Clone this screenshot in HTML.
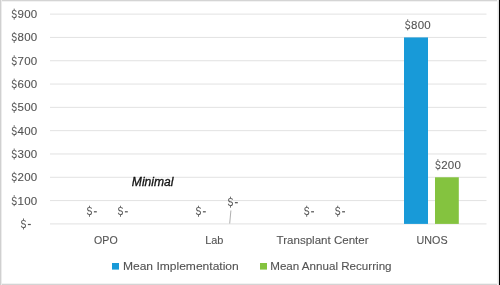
<!DOCTYPE html>
<html><head><meta charset="utf-8">
<style>
html,body{margin:0;padding:0;background:#fff;}
body{width:500px;height:285px;overflow:hidden;}
svg{display:block;will-change:transform;}
text{font-family:"Liberation Sans", sans-serif;fill:#535353;stroke:#535353;stroke-width:0.1px;}
</style></head><body>
<svg width="500" height="285" viewBox="0 0 500 285">
<rect x="0" y="0" width="500" height="285" fill="#fff"/>
<rect x="0" y="0" width="500" height="1" fill="#d4d4d4"/>
<rect x="0" y="1" width="500" height="1" fill="#f2f2f2"/>
<rect x="0" y="284" width="500" height="1" fill="#d4d4d4"/>
<rect x="0" y="283" width="500" height="1" fill="#f2f2f2"/>
<rect x="0" y="0" width="1" height="285" fill="#d0d0d0"/>
<rect x="1" y="0" width="1" height="285" fill="#ececec"/>
<rect x="497" y="0" width="1" height="285" fill="#f3f3f3"/>
<rect x="498" y="0" width="1" height="285" fill="#e2e2e2"/>
<rect x="499" y="0" width="1" height="285" fill="#000"/>
<rect x="50.0" y="223.40" width="436.5" height="1" fill="#e2e2e2"/>
<rect x="50.0" y="200.09" width="436.5" height="1" fill="#e2e2e2"/>
<rect x="50.0" y="176.78" width="436.5" height="1" fill="#e2e2e2"/>
<rect x="50.0" y="153.47" width="436.5" height="1" fill="#e2e2e2"/>
<rect x="50.0" y="130.16" width="436.5" height="1" fill="#e2e2e2"/>
<rect x="50.0" y="106.85" width="436.5" height="1" fill="#e2e2e2"/>
<rect x="50.0" y="83.54" width="436.5" height="1" fill="#e2e2e2"/>
<rect x="50.0" y="60.23" width="436.5" height="1" fill="#e2e2e2"/>
<rect x="50.0" y="36.92" width="436.5" height="1" fill="#e2e2e2"/>
<rect x="50.0" y="13.61" width="436.5" height="1" fill="#e2e2e2"/>
<text transform="translate(20.56,227.90) scale(0.76,1)" x="0" y="0" font-size="11.5">S</text>
<line x1="23.49" y1="218.44" x2="23.49" y2="220.14" stroke="#535353" stroke-width="0.85"/>
<line x1="23.49" y1="227.50" x2="23.49" y2="229.50" stroke="#535353" stroke-width="0.85"/>
<rect x="27.90" y="223.90" width="2.9" height="1.2" fill="#535353"/>
<text transform="translate(11.26,204.59) scale(0.76,1)" x="0" y="0" font-size="11.5">S</text>
<line x1="14.19" y1="195.12" x2="14.19" y2="196.83" stroke="#535353" stroke-width="0.85"/>
<line x1="14.19" y1="204.19" x2="14.19" y2="206.19" stroke="#535353" stroke-width="0.85"/>
<text x="17.54" y="204.59" font-size="11.5" style="letter-spacing:0.21px">100</text>
<text transform="translate(11.26,181.28) scale(0.76,1)" x="0" y="0" font-size="11.5">S</text>
<line x1="14.19" y1="171.81" x2="14.19" y2="173.52" stroke="#535353" stroke-width="0.85"/>
<line x1="14.19" y1="180.88" x2="14.19" y2="182.88" stroke="#535353" stroke-width="0.85"/>
<text x="17.54" y="181.28" font-size="11.5" style="letter-spacing:0.21px">200</text>
<text transform="translate(11.26,157.97) scale(0.76,1)" x="0" y="0" font-size="11.5">S</text>
<line x1="14.19" y1="148.51" x2="14.19" y2="150.21" stroke="#535353" stroke-width="0.85"/>
<line x1="14.19" y1="157.57" x2="14.19" y2="159.57" stroke="#535353" stroke-width="0.85"/>
<text x="17.54" y="157.97" font-size="11.5" style="letter-spacing:0.21px">300</text>
<text transform="translate(11.26,134.66) scale(0.76,1)" x="0" y="0" font-size="11.5">S</text>
<line x1="14.19" y1="125.20" x2="14.19" y2="126.90" stroke="#535353" stroke-width="0.85"/>
<line x1="14.19" y1="134.26" x2="14.19" y2="136.26" stroke="#535353" stroke-width="0.85"/>
<text x="17.54" y="134.66" font-size="11.5" style="letter-spacing:0.21px">400</text>
<text transform="translate(11.26,111.35) scale(0.76,1)" x="0" y="0" font-size="11.5">S</text>
<line x1="14.19" y1="101.89" x2="14.19" y2="103.59" stroke="#535353" stroke-width="0.85"/>
<line x1="14.19" y1="110.95" x2="14.19" y2="112.95" stroke="#535353" stroke-width="0.85"/>
<text x="17.54" y="111.35" font-size="11.5" style="letter-spacing:0.21px">500</text>
<text transform="translate(11.26,88.04) scale(0.76,1)" x="0" y="0" font-size="11.5">S</text>
<line x1="14.19" y1="78.58" x2="14.19" y2="80.28" stroke="#535353" stroke-width="0.85"/>
<line x1="14.19" y1="87.64" x2="14.19" y2="89.64" stroke="#535353" stroke-width="0.85"/>
<text x="17.54" y="88.04" font-size="11.5" style="letter-spacing:0.21px">600</text>
<text transform="translate(11.26,64.73) scale(0.76,1)" x="0" y="0" font-size="11.5">S</text>
<line x1="14.19" y1="55.27" x2="14.19" y2="56.97" stroke="#535353" stroke-width="0.85"/>
<line x1="14.19" y1="64.33" x2="14.19" y2="66.33" stroke="#535353" stroke-width="0.85"/>
<text x="17.54" y="64.73" font-size="11.5" style="letter-spacing:0.21px">700</text>
<text transform="translate(11.26,41.42) scale(0.76,1)" x="0" y="0" font-size="11.5">S</text>
<line x1="14.19" y1="31.96" x2="14.19" y2="33.66" stroke="#535353" stroke-width="0.85"/>
<line x1="14.19" y1="41.02" x2="14.19" y2="43.02" stroke="#535353" stroke-width="0.85"/>
<text x="17.54" y="41.42" font-size="11.5" style="letter-spacing:0.21px">800</text>
<text transform="translate(11.26,18.11) scale(0.76,1)" x="0" y="0" font-size="11.5">S</text>
<line x1="14.19" y1="8.65" x2="14.19" y2="10.35" stroke="#535353" stroke-width="0.85"/>
<line x1="14.19" y1="17.71" x2="14.19" y2="19.71" stroke="#535353" stroke-width="0.85"/>
<text x="17.54" y="18.11" font-size="11.5" style="letter-spacing:0.21px">900</text>
<rect x="404" y="37.42" width="24" height="186.48" fill="#189ad8"/>
<rect x="435" y="177.28" width="23.8" height="46.62" fill="#84c33f"/>
<text transform="translate(404.76,28.80) scale(0.76,1)" x="0" y="0" font-size="11.5">S</text>
<line x1="407.69" y1="19.34" x2="407.69" y2="21.04" stroke="#535353" stroke-width="0.85"/>
<line x1="407.69" y1="28.40" x2="407.69" y2="30.40" stroke="#535353" stroke-width="0.85"/>
<text x="411.04" y="28.80" font-size="11.5" style="letter-spacing:0.21px">800</text>
<text transform="translate(434.96,168.70) scale(0.76,1)" x="0" y="0" font-size="11.5">S</text>
<line x1="437.89" y1="159.23" x2="437.89" y2="160.94" stroke="#535353" stroke-width="0.85"/>
<line x1="437.89" y1="168.30" x2="437.89" y2="170.30" stroke="#535353" stroke-width="0.85"/>
<text x="441.24" y="168.70" font-size="11.5" style="letter-spacing:0.21px">200</text>
<text transform="translate(86.56,215.20) scale(0.76,1)" x="0" y="0" font-size="11.5">S</text>
<line x1="89.49" y1="205.73" x2="89.49" y2="207.44" stroke="#535353" stroke-width="0.85"/>
<line x1="89.49" y1="214.80" x2="89.49" y2="216.80" stroke="#535353" stroke-width="0.85"/>
<rect x="93.90" y="211.20" width="2.9" height="1.2" fill="#535353"/>
<text transform="translate(117.56,215.20) scale(0.76,1)" x="0" y="0" font-size="11.5">S</text>
<line x1="120.49" y1="205.73" x2="120.49" y2="207.44" stroke="#535353" stroke-width="0.85"/>
<line x1="120.49" y1="214.80" x2="120.49" y2="216.80" stroke="#535353" stroke-width="0.85"/>
<rect x="124.90" y="211.20" width="2.9" height="1.2" fill="#535353"/>
<text transform="translate(195.56,215.20) scale(0.76,1)" x="0" y="0" font-size="11.5">S</text>
<line x1="198.49" y1="205.73" x2="198.49" y2="207.44" stroke="#535353" stroke-width="0.85"/>
<line x1="198.49" y1="214.80" x2="198.49" y2="216.80" stroke="#535353" stroke-width="0.85"/>
<rect x="202.90" y="211.20" width="2.9" height="1.2" fill="#535353"/>
<text transform="translate(303.76,215.20) scale(0.76,1)" x="0" y="0" font-size="11.5">S</text>
<line x1="306.69" y1="205.73" x2="306.69" y2="207.44" stroke="#535353" stroke-width="0.85"/>
<line x1="306.69" y1="214.80" x2="306.69" y2="216.80" stroke="#535353" stroke-width="0.85"/>
<rect x="311.10" y="211.20" width="2.9" height="1.2" fill="#535353"/>
<text transform="translate(334.76,215.20) scale(0.76,1)" x="0" y="0" font-size="11.5">S</text>
<line x1="337.69" y1="205.73" x2="337.69" y2="207.44" stroke="#535353" stroke-width="0.85"/>
<line x1="337.69" y1="214.80" x2="337.69" y2="216.80" stroke="#535353" stroke-width="0.85"/>
<rect x="342.10" y="211.20" width="2.9" height="1.2" fill="#535353"/>
<text transform="translate(227.56,206.10) scale(0.76,1)" x="0" y="0" font-size="11.5">S</text>
<line x1="230.49" y1="196.63" x2="230.49" y2="198.34" stroke="#535353" stroke-width="0.85"/>
<line x1="230.49" y1="205.70" x2="230.49" y2="207.70" stroke="#535353" stroke-width="0.85"/>
<rect x="234.90" y="202.10" width="2.9" height="1.2" fill="#535353"/>
<line x1="230.9" y1="210.5" x2="229.7" y2="223.5" stroke="#a0a0a0" stroke-width="0.85"/>
<text x="131.83" y="185.60" font-size="12" textLength="41.70" lengthAdjust="spacingAndGlyphs" font-style="italic" style="fill:#111;stroke:#111;stroke-width:0.3px">Minimal</text>
<text x="94.10" y="244.00" font-size="11.3" textLength="23.51" lengthAdjust="spacingAndGlyphs">OPO</text>
<text x="205.20" y="244.00" font-size="11.3" textLength="18.26" lengthAdjust="spacingAndGlyphs">Lab</text>
<text x="276.64" y="243.80" font-size="11.3" textLength="91.95" lengthAdjust="spacingAndGlyphs">Transplant Center</text>
<text x="416.57" y="243.90" font-size="11.3" textLength="31.02" lengthAdjust="spacingAndGlyphs">UNOS</text>
<rect x="112" y="263" width="7" height="6.6" fill="#189ad8"/>
<text x="122.91" y="269.70" font-size="11.5" textLength="115.87" lengthAdjust="spacingAndGlyphs">Mean Implementation</text>
<rect x="260" y="263" width="7" height="6.6" fill="#84c33f"/>
<text x="270.25" y="269.70" font-size="11.5" textLength="121.29" lengthAdjust="spacingAndGlyphs">Mean Annual Recurring</text>
</svg>
</body></html>
